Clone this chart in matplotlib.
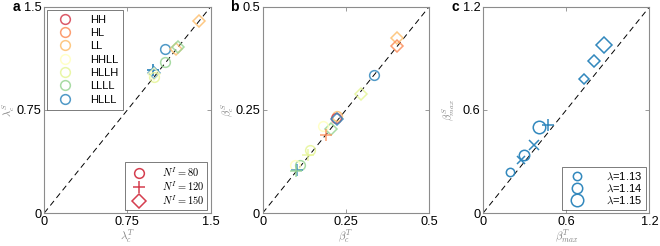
import numpy as np
import matplotlib
matplotlib.use("Agg")
import matplotlib.pyplot as plt
from matplotlib.lines import Line2D

plt.rcParams['font.family'] = ['Liberation Sans', 'DejaVu Sans']
plt.rcParams['mathtext.fontset'] = 'cm'

# --- categories and colours ---
categories = ['HH', 'HL', 'LL', 'HHLL', 'HLLH', 'LLLL', 'HLLL']
cat_colors = ['#d53e4f', '#fc8d59', '#fdbf6f', '#ffffbf', '#e6f598', '#99d594', '#3288bd']
n_values = [80, 120, 150]
n_markers = ['o', '+', 'D']

# --- panel a: lambda_c (T vs S) ---
a_cat = ['LL', 'HLLL', 'LL', 'LLLL', 'LLLL', 'HLLL', 'HLLL', 'HLLL', 'HLLH', 'HHLL']
a_n = [150, 80, 150, 150, 80, 120, 120, 150, 80, 150]
a_x = [1.40, 1.09, 1.19, 1.21, 1.09, 0.98, 0.98, 0.99, 0.99, 0.99]
a_y = [1.40, 1.19, 1.19, 1.21, 1.10, 1.04, 1.04, 1.02, 0.99, 1.01]

# --- panel b: beta_c (T vs S) ---
b_cat = ['LL', 'HL', 'HLLL', 'HLLH', 'LL', 'HH', 'HLLL', 'LLLL', 'HHLL', 'HL',
         'HLLH', 'HLLH', 'LLLL', 'HHLL', 'HLLL', 'LLLL']
b_n = [150, 150, 80, 150, 80, 80, 150, 150, 80, 120,
       80, 120, 80, 80, 120, 120]
b_x = [0.405, 0.405, 0.334, 0.297, 0.222, 0.220, 0.224, 0.205, 0.182, 0.190,
       0.142, 0.137, 0.112, 0.097, 0.102, 0.100]
b_y = [0.425, 0.406, 0.335, 0.289, 0.236, 0.230, 0.228, 0.205, 0.210, 0.190,
       0.152, 0.140, 0.116, 0.117, 0.105, 0.103]

# --- panel c: beta_max (T vs S) for three lambdas ---
lambdas = [1.13, 1.14, 1.15]
lam_sizes = [6, 7.5, 9]
c_lam = [1.13, 1.14, 1.15, 1.13, 1.14, 1.15, 1.13, 1.14, 1.15]
c_mark = ['o', 'o', 'o', 'x', 'x', '+', 'D', 'D', 'D']
c_x = [0.197, 0.293, 0.405, 0.276, 0.365, 0.466, 0.725, 0.797, 0.869]
c_y = [0.236, 0.339, 0.503, 0.310, 0.397, 0.513, 0.778, 0.886, 0.977]

color_of = dict(zip(categories, cat_colors))
marker_of = dict(zip(n_values, n_markers))
size_of = dict(zip(lambdas, lam_sizes))
blue = '#3288bd'
spine_col = '#8c8c8c'

fig = plt.figure(figsize=(6.6, 2.46), dpi=100)
w, h, bot = 0.252, 0.838, 0.134
lefts = [0.067, 0.398, 0.732]
axes = [fig.add_axes([l, bot, w, h]) for l in lefts]


def style(ax, lim, ticks, ticklabels, xl, yl, letter):
    ax.plot([0, lim], [0, lim], color='k', lw=0.7, dashes=(6, 4), zorder=1)
    ax.set_xlim(0, lim)
    ax.set_ylim(0, lim)
    ax.set_xticks(ticks)
    ax.set_yticks(ticks)
    ax.set_xticklabels(ticklabels)
    ax.set_yticklabels(ticklabels)
    ax.tick_params(direction='in', length=3, width=0.6, top=True, right=True,
                   labelsize=9.2, colors=spine_col, labelcolor='black', pad=2)
    for s in ax.spines.values():
        s.set_color(spine_col)
        s.set_linewidth(0.8)
    ax.set_xlabel(xl, fontsize=8, color='#808080', labelpad=0)
    ax.set_ylabel(yl, fontsize=7.5, color='#808080')
    ax.yaxis.set_label_coords(-0.165, 0.5)
    ax.text(-0.145, 1.0, letter, transform=ax.transAxes, fontsize=10,
            fontweight='bold', va='center', ha='right')


def draw_points(ax, cats, ns, xs, ys):
    for c, n, x, y in zip(cats, ns, xs, ys):
        m = marker_of[n]
        ms = 8 if m == '+' else (6.5 if m == 'D' else 7)
        ax.plot(x, y, marker=m, ms=ms, mfc='none', mec=color_of[c],
                mew=1.1, alpha=0.85, ls='none', zorder=3)


# panel a
ax = axes[0]
draw_points(ax, a_cat, a_n, a_x, a_y)
style(ax, 1.5, [0, 0.75, 1.5], ['0', '0.75', '1.5'],
      r'$\lambda_c^T$', r'$\lambda_c^S$', 'a')
h1 = [Line2D([], [], marker='o', ms=7, mfc='none', mec=c, mew=1.1, ls='none', alpha=0.85)
      for c in cat_colors]
leg1 = ax.legend(h1, categories, loc='upper left', fontsize=8, frameon=True,
                 fancybox=False, edgecolor='#404040', borderaxespad=0.25,
                 handletextpad=1.0, handlelength=2.4, labelspacing=0.3,
                 borderpad=0.45)
leg1.get_frame().set_linewidth(0.6)
ax.add_artist(leg1)
h2 = [Line2D([], [], marker=m, ms=mz, mfc='none', mec=cat_colors[0], mew=1.1, ls='none')
      for m, mz in zip(n_markers, [7, 8, 7])]
leg2 = ax.legend(h2, [r'$N^I = %d$' % n for n in n_values], loc='lower right',
                 fontsize=7.5, frameon=True, fancybox=False, edgecolor='#404040',
                 borderaxespad=0.3, handletextpad=1.2, labelspacing=0.05,
                 borderpad=0.3)
leg2.get_frame().set_linewidth(0.6)

# panel b
ax = axes[1]
draw_points(ax, b_cat, b_n, b_x, b_y)
style(ax, 0.5, [0, 0.25, 0.5], ['0', '0.25', '0.5'],
      r'$\beta_c^T$', r'$\beta_c^S$', 'b')

# panel c
ax = axes[2]
for lam, m, x, y in zip(c_lam, c_mark, c_x, c_y):
    s = size_of[lam] * (0.85 if m == 'D' else 1.0)
    ax.plot(x, y, marker=m, ms=s, mfc='none', mec=blue, mew=1.1,
            ls='none', zorder=3)
style(ax, 1.2, [0, 0.6, 1.2], ['0', '0.6', '1.2'],
      r'$\beta_{max}^T$', r'$\beta_{max}^S$', 'c')
h3 = [Line2D([], [], marker='o', ms=s, mfc='none', mec=blue, mew=1.1, ls='none')
      for s in lam_sizes]
leg3 = ax.legend(h3, [r'$\lambda$=%.2f' % l for l in lambdas], loc='lower right',
                 fontsize=8, frameon=True, fancybox=False, edgecolor='#404040',
                 borderaxespad=0.3, handletextpad=1.6, labelspacing=0.05,
                 borderpad=0.35)
leg3.get_frame().set_linewidth(0.6)

fig.savefig('out.png', dpi=100)
